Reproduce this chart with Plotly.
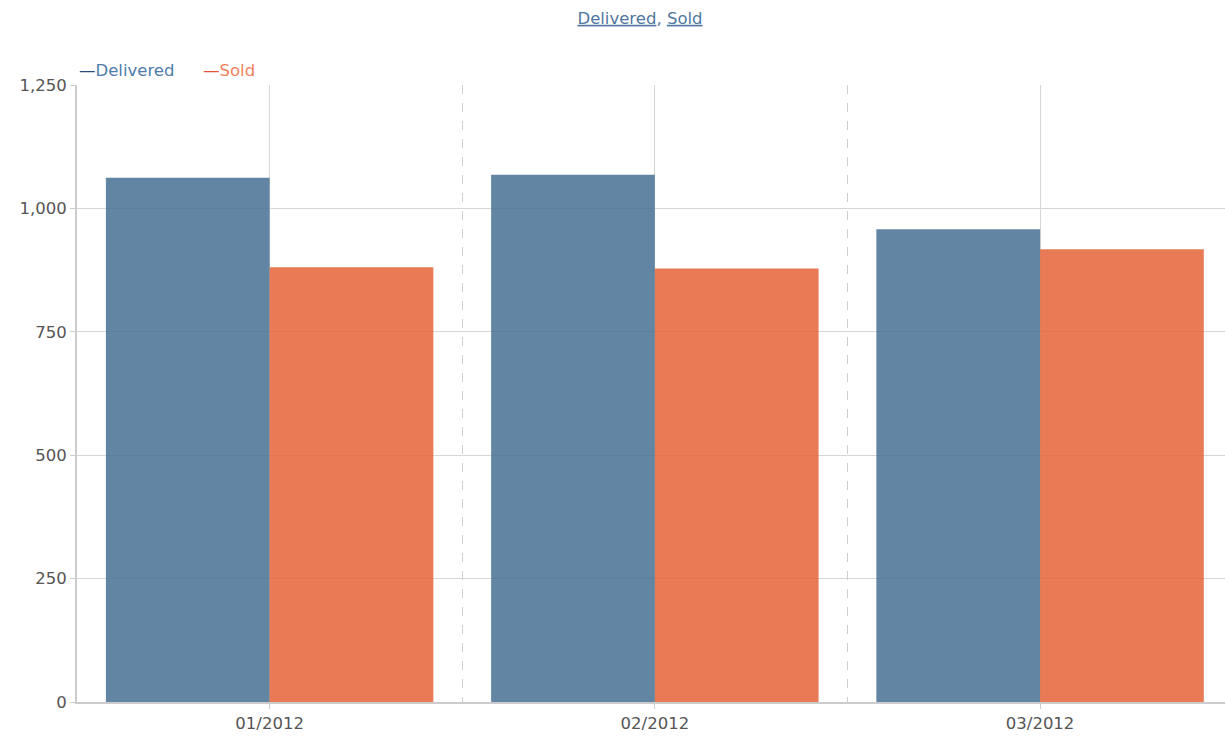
import plotly.graph_objects as go

# ---- data ----
categories = ["01/2012", "02/2012", "03/2012"]
delivered = [1062, 1068, 958]
sold = [881, 878, 917]
series_names = ["Delivered", "Sold"]
y_ticks = [0, 250, 500, 750, 1000, 1250]

FONT = "DejaVu Sans"
BLUE = "rgba(70,112,148,0.85)"
ORANGE = "rgba(228,100,55,0.85)"

fig = go.Figure()
fig.add_trace(go.Bar(x=categories, y=delivered, name=series_names[0],
                     marker=dict(color=BLUE, line=dict(width=0)), showlegend=False))
fig.add_trace(go.Bar(x=categories, y=sold, name=series_names[1],
                     marker=dict(color=ORANGE, line=dict(width=0)), showlegend=False))
# invisible helper trace for the dashed category-boundary grid
fig.add_trace(go.Scatter(x=categories, y=[0] * len(categories), xaxis="x2", mode="markers",
                         marker=dict(opacity=0), hoverinfo="skip", showlegend=False))

xr = [-0.5, 2.48]
fig.update_layout(
    width=1225, height=738,
    margin=dict(l=77, r=0, t=85, b=36),
    paper_bgcolor="white", plot_bgcolor="white",
    font=dict(family=FONT, size=16.5, color="#555555"),
    barmode="group", bargap=0.15, bargroupgap=0,
    title=dict(text="<u>Delivered</u>, <u>Sold</u>", x=640 / 1225, xref="container", xanchor="center",
               y=1 - 18 / 738, yanchor="middle", font=dict(family=FONT, size=16.5, color="#4f77a0")),
    xaxis=dict(type="category", range=xr, showgrid=True, gridcolor="#d6d6d6", gridwidth=1,
               showline=True, linecolor="#cccccc", linewidth=2, ticks="outside", ticklen=5,
               tickcolor="#cccccc", tickfont=dict(size=16.5, color="#555555")),
    xaxis2=dict(type="category", overlaying="x", range=xr, tickson="boundaries", showgrid=True,
                griddash="dash", gridcolor="#cfcfcf", gridwidth=1, showticklabels=False,
                ticks="", showline=False, side="top"),
    yaxis=dict(range=[0, 1250], tickvals=y_ticks, tickformat=",", showgrid=True,
               gridcolor="#d6d6d6", gridwidth=1, zeroline=False, showline=True,
               linecolor="#cccccc", linewidth=2, ticks="outside", ticklen=5,
               tickcolor="#cccccc", tickfont=dict(size=16.5, color="#555555")),
    showlegend=False,
)

legend_colors = [("#2c4b80", "#4f7cab"), ("#e8503c", "#f0805a")]
legend_shift = [0, 124]
for name, (dc, tc), xs in zip(series_names, legend_colors, legend_shift):
    fig.add_annotation(
        text=f"<span style='color:{dc}'>—</span><span style='color:{tc}'>{name}</span>",
        xref="paper", yref="paper", x=0, y=1, xanchor="left", yanchor="bottom",
        xshift=xs, yshift=3, showarrow=False, font=dict(family=FONT, size=16.5))

fig.write_html("out.html")
